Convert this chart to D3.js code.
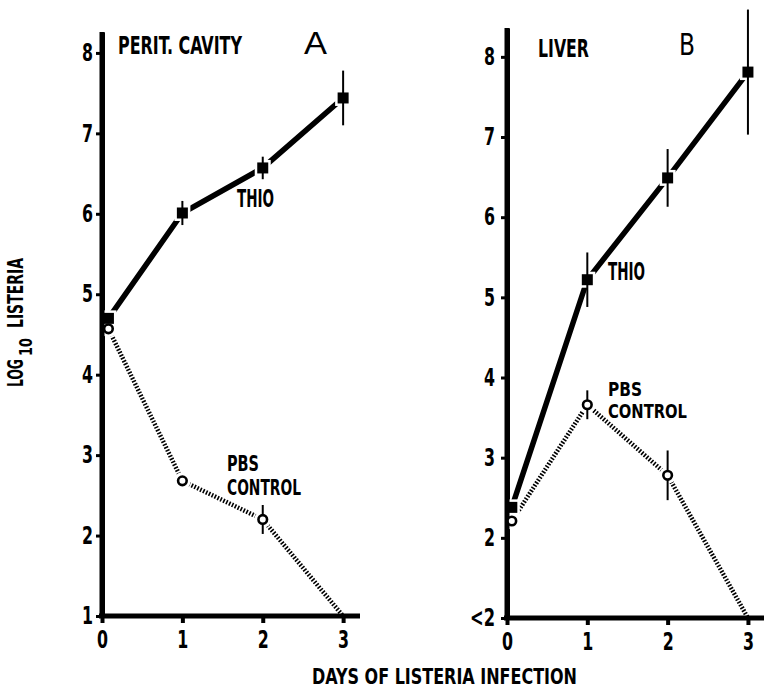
<!DOCTYPE html>
<html>
<head>
<meta charset="utf-8">
<script src="https://cdn.jsdelivr.net/npm/d3@7/dist/d3.min.js"></script>
<style>
  body { margin: 0; background: #fff; }
  svg { display: block; }
  text {
    font-family: "Liberation Sans Narrow", "DejaVu Sans Condensed", "Roboto Condensed", sans-serif;
    font-weight: bold;
    fill: #000;
  }
</style>
</head>
<body>
<svg id="chart" width="764" height="691"></svg>
<script>
// days of infection (first reading sits just right of day 0)
var daysA = [0.08, 1, 2, 3];
var daysB = [0.06, 1, 2, 3];

// A: peritoneal cavity, log10 listeria
var thioA = [4.70, 6.01, 6.57, 7.44];
var thioErrA = [0, 0.15, 0.14, 0.34];
var pbsA = [4.57, 2.68, 2.20, 1.0];
var pbsErrA = [0, 0, 0.18, 0];

// B: liver, log10 listeria (1 = below detection, "<2")
var thioB = [2.38, 5.22, 6.49, 7.81];
var thioErrB = [0, 0.34, 0.36, 0.78];
var pbsB = [2.21, 3.66, 2.78, 1.0];
var pbsErrB = [0, 0.18, 0.31, 0];

var yTicks = [1, 2, 3, 4, 5, 6, 7, 8];
var yLabelsA = ['1', '2', '3', '4', '5', '6', '7', '8'];
var yLabelsB = ['<2', '2', '3', '4', '5', '6', '7', '8'];
var xTicks = [0, 1, 2, 3];
var xLabels = ['0', '1', '2', '3'];

var svg = d3.select('#chart');

// squeeze text to the narrow condensed look of the original lettering
function narrow(sel) {
    sel.each(function() {
        var t = d3.select(this);
        var n = t.text().length;
        t.attr('textLength', n * 11 + (n > 1 ? 3 : 0)).attr('lengthAdjust', 'spacingAndGlyphs');
    });
}

function drawPanel(p) {
    var x = d3.scaleLinear().domain(p.xDomain).range(p.xRange);
    var y = d3.scaleLinear().domain(p.yDomain).range(p.yRange);
    var g = svg.append('g');

    // y axis
    var ya = g.append('g')
        .attr('transform', 'translate(' + p.xRange[0] + ',0)')
        .call(d3.axisLeft(y)
            .tickValues(yTicks)
            .tickFormat(function(d, i) { return p.yLabels[i]; })
            .tickSize(6)
            .tickSizeOuter(0)
            .tickPadding(p.yPad));
    ya.select('.domain').attr('stroke', '#000').attr('stroke-width', 5);
    ya.selectAll('.tick line').attr('stroke', '#000').attr('stroke-width', 3);
    ya.selectAll('.tick text').style('font-size', '24px').call(narrow);

    // x axis
    var xa = g.append('g')
        .attr('transform', 'translate(0,' + y(1) + ')')
        .call(d3.axisBottom(x)
            .tickValues(xTicks)
            .tickFormat(function(d, i) { return xLabels[i]; })
            .tickSize(7)
            .tickSizeOuter(0)
            .tickPadding(8));
    xa.select('.domain').attr('stroke', '#000').attr('stroke-width', 5)
        .attr('d', 'M' + (p.xRange[0] - 3) + ',0H' + p.xRange[1]);
    xa.selectAll('.tick line').attr('stroke', '#000').attr('stroke-width', 4);
    xa.selectAll('.tick text').style('font-size', '24px').call(narrow);

    var thio = p.days.map(function(d, i) { return { x: d, y: p.thio[i], e: p.thioErr[i] }; });
    var pbs = p.days.map(function(d, i) { return { x: d, y: p.pbs[i], e: p.pbsErr[i] }; });
    // last PBS reading is below detection: line runs to the axis, no marker
    var pbsPts = pbs.filter(function(d) { return d.y > 1; });

    var line = d3.line()
        .x(function(d) { return x(d.x); })
        .y(function(d) { return y(d.y); });

    g.append('path').datum(pbs)
        .attr('d', line)
        .attr('fill', 'none')
        .attr('stroke', '#000')
        .attr('stroke-width', 4.5)
        .attr('stroke-dasharray', '1.6,1.6');

    g.append('path').datum(thio)
        .attr('d', line)
        .attr('fill', 'none')
        .attr('stroke', '#000')
        .attr('stroke-width', 5.5);

    // white halos make the small gaps where lines meet the markers
    g.selectAll('.halo-sq').data(thio).enter().append('rect')
        .attr('x', function(d) { return x(d.x) - 8; })
        .attr('y', function(d) { return y(d.y) - 8; })
        .attr('width', 16).attr('height', 16)
        .attr('fill', '#fff');
    g.selectAll('.halo-c').data(pbsPts).enter().append('circle')
        .attr('cx', function(d) { return x(d.x); })
        .attr('cy', function(d) { return y(d.y); })
        .attr('r', 8.5)
        .attr('fill', '#fff');

    // error bars
    var errs = thio.concat(pbsPts).filter(function(d) { return d.e > 0; });
    g.selectAll('.err').data(errs).enter().append('line')
        .attr('x1', function(d) { return x(d.x); })
        .attr('x2', function(d) { return x(d.x); })
        .attr('y1', function(d) { return y(d.y + d.e); })
        .attr('y2', function(d) { return y(d.y - d.e); })
        .attr('stroke', '#000')
        .attr('stroke-width', 2);

    // redraw the axis on top of the halos near day 0
    g.append('line')
        .attr('x1', p.xRange[0]).attr('x2', p.xRange[0])
        .attr('y1', p.yRange[0]).attr('y2', p.yRange[1])
        .attr('stroke', '#000').attr('stroke-width', 5);

    g.selectAll('.sq').data(thio).enter().append('rect')
        .attr('x', function(d) { return x(d.x) - 5.5; })
        .attr('y', function(d) { return y(d.y) - 5.5; })
        .attr('width', 11).attr('height', 11)
        .attr('fill', '#000');

    g.selectAll('.ci').data(pbsPts).enter().append('circle')
        .attr('cx', function(d) { return x(d.x); })
        .attr('cy', function(d) { return y(d.y); })
        .attr('r', 4.3)
        .attr('fill', '#fff')
        .attr('stroke', '#000')
        .attr('stroke-width', 2.6);

    // labels (multi-line ones are one text element with tspans)
    p.labels.forEach(function(l) {
        var t = g.append('text')
            .attr('x', l.x).attr('y', l.y)
            .style('font-size', (l.size || 25) + 'px');
        if (l.font) t.style('font-family', l.font);
        if (l.weight) t.style('font-weight', l.weight);
        var lines = [].concat(l.text), widths = [].concat(l.w);
        lines.forEach(function(s, i) {
            var ts = t.append('tspan').attr('x', l.x).text(s);
            if (i > 0) ts.attr('dy', l.lh);
            if (widths[i]) ts.attr('textLength', widths[i]).attr('lengthAdjust', 'spacingAndGlyphs');
        });
    });
}

drawPanel({
    xDomain: [0, 3.21], xRange: [102, 360],
    yDomain: [1, 8.26], yRange: [616, 32],
    yLabels: yLabelsA, yPad: 3,
    days: daysA, thio: thioA, thioErr: thioErrA, pbs: pbsA, pbsErr: pbsErrA,
    labels: [
        { text: 'PERIT. CAVITY', x: 118, y: 54, w: 124 },
        { text: 'A', x: 304, y: 54, size: 31, font: '"Liberation Sans", "DejaVu Sans", sans-serif', weight: 'normal', w: 23 },
        { text: 'THIO', x: 237, y: 207, w: 37 },
        { text: ['PBS', 'CONTROL'], x: 227, y: 471, size: 21, lh: 24, w: [32, 74] }
    ]
});

drawPanel({
    xDomain: [0, 3.2], xRange: [507, 764],
    yDomain: [1, 8.36], yRange: [618, 28],
    yLabels: yLabelsB, yPad: 6,
    days: daysB, thio: thioB, thioErr: thioErrB, pbs: pbsB, pbsErr: pbsErrB,
    labels: [
        { text: 'LIVER', x: 538, y: 57, w: 51 },
        { text: 'B', x: 679, y: 55, size: 30, weight: 'normal', w: 16 },
        { text: 'THIO', x: 608, y: 280, w: 37 },
        { text: ['PBS', 'CONTROL'], x: 608, y: 396, size: 20, lh: 22, w: [34, 79] }
    ]
});

// shared axis titles
svg.append('text')
    .attr('x', 312).attr('y', 684)
    .style('font-size', '22px')
    .attr('textLength', 265).attr('lengthAdjust', 'spacingAndGlyphs')
    .text('DAYS OF LISTERIA INFECTION');

var yt = svg.append('text')
    .attr('transform', 'translate(23,387) rotate(-90)')
    .style('font-size', '21px');
yt.append('tspan').attr('textLength', 28).attr('lengthAdjust', 'spacingAndGlyphs').text('LOG');
yt.append('tspan').attr('dy', 9).attr('dx', 3).style('font-size', '17px')
    .attr('textLength', 18).attr('lengthAdjust', 'spacingAndGlyphs').text('10');
yt.append('tspan').attr('dy', -9).attr('dx', 10)
    .attr('textLength', 70).attr('lengthAdjust', 'spacingAndGlyphs').text('LISTERIA');
</script>
</body>
</html>
